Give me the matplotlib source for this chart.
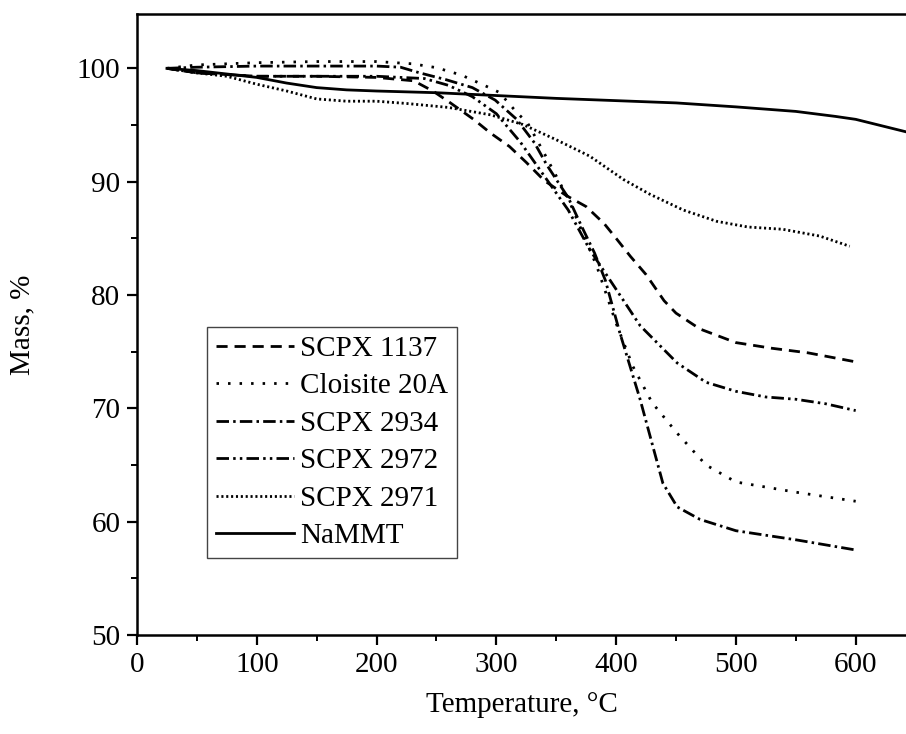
import matplotlib
matplotlib.use("Agg")
import matplotlib.pyplot as plt
from matplotlib.ticker import MultipleLocator

plt.rcParams['font.family'] = 'Liberation Serif'
plt.rcParams['font.size'] = 21
plt.rcParams['lines.scale_dashes'] = False

# TGA curves (temperature in C, mass in %)
t_1137 = [25, 50, 100, 150, 200, 231, 247, 261, 281, 295, 311, 325, 340, 358, 375, 390, 400, 412, 425, 440, 450, 470, 500, 530, 560, 600]
m_1137 = [100, 99.6, 99.3, 99.3, 99.2, 98.9, 98.0, 97.0, 95.5, 94.3, 93.1, 91.7, 90.1, 88.8, 87.8, 86.3, 85.0, 83.4, 81.8, 79.5, 78.4, 77.0, 75.8, 75.3, 74.9, 74.1]

t_cloisite = [25, 50, 100, 150, 200, 230, 250, 271, 292, 302, 309, 317, 326, 340, 360, 384, 400, 414, 430, 451, 475, 500, 550, 600]
m_cloisite = [100, 100.3, 100.5, 100.6, 100.6, 100.4, 100.06, 99.4, 98.4, 97.9, 97.1, 96.1, 95.2, 92.5, 88.5, 82.5, 77.5, 73.7, 70.5, 67.8, 65.0, 63.5, 62.6, 61.8]

t_2934 = [25, 50, 100, 150, 200, 220, 236, 258, 280, 299, 317, 332, 342, 350, 360, 371, 382, 391, 403, 420, 439, 451, 470, 500, 550, 600]
m_2934 = [100, 100.1, 100.2, 100.2, 100.2, 100.1, 99.6, 99.0, 98.3, 97.2, 95.5, 93.4, 91.5, 90.2, 88.6, 86.1, 83.7, 81.3, 76.7, 70.8, 63.4, 61.3, 60.2, 59.2, 58.4, 57.5]

t_2972 = [25, 50, 100, 150, 200, 240, 260, 280, 300, 320, 340, 360, 378, 400, 420, 451, 475, 500, 525, 550, 575, 600]
m_2972 = [100, 99.6, 99.3, 99.3, 99.3, 99.1, 98.5, 97.5, 96.0, 93.5, 90.5, 87.5, 84.0, 80.5, 77.3, 74.0, 72.3, 71.5, 71.0, 70.8, 70.4, 69.8]

t_2971 = [25, 50, 75, 100, 125, 150, 175, 200, 225, 260, 295, 322, 350, 378, 406, 428, 456, 484, 510, 539, 570, 595]
m_2971 = [100, 99.6, 99.3, 98.6, 98.0, 97.3, 97.1, 97.1, 96.9, 96.55, 95.9, 95.05, 93.7, 92.25, 90.2, 88.9, 87.5, 86.5, 86.0, 85.8, 85.2, 84.3]

t_nammt = [25, 50, 75, 100, 125, 150, 175, 200, 250, 300, 350, 400, 450, 500, 550, 583, 600, 642]
m_nammt = [100, 99.8, 99.5, 99.2, 98.7, 98.3, 98.1, 98.0, 97.85, 97.6, 97.35, 97.15, 96.95, 96.6, 96.2, 95.76, 95.5, 94.4]

fig = plt.figure(figsize=(9.06, 7.34), dpi=100)
ax = fig.add_axes([0.1512, 0.1349, 0.8488, 0.8461])

lw = 2.0
ax.plot(t_1137, m_1137, color='black', lw=lw, dashes=(8, 5), label='SCPX 1137')
ax.plot(t_cloisite, m_cloisite, color='black', lw=lw, dashes=(1.8, 6.5), label='Cloisite 20A')
ax.plot(t_2934, m_2934, color='black', lw=lw, dashes=(9, 3, 1.8, 3), label='SCPX 2934')
ax.plot(t_2972, m_2972, color='black', lw=lw, dashes=(9, 3, 1.8, 3, 1.8, 3), label='SCPX 2972')
ax.plot(t_2971, m_2971, color='black', lw=lw, dashes=(1.5, 2.0), label='SCPX 2971')
ax.plot(t_nammt, m_nammt, color='black', lw=lw, label='NaMMT')

ax.set_xlim(0, 642)
ax.set_ylim(50, 104.8)
ax.xaxis.set_major_locator(MultipleLocator(100))
ax.xaxis.set_minor_locator(MultipleLocator(50))
ax.yaxis.set_major_locator(MultipleLocator(10))
ax.yaxis.set_minor_locator(MultipleLocator(5))
ax.tick_params(which='major', direction='out', length=7, width=1.6, pad=5)
ax.tick_params(which='minor', direction='out', length=4.5, width=1.4)

for side in ['left', 'bottom', 'top']:
    ax.spines[side].set_linewidth(1.8)
ax.spines['right'].set_visible(False)

ax.set_xlabel('Temperature, °C', labelpad=10)
ax.set_ylabel('Mass, %', labelpad=30)

leg = ax.legend(loc='lower left', bbox_to_anchor=(0.091, 0.124), borderaxespad=0,
                handlelength=2.7, handletextpad=0.2, labelspacing=0.38,
                fancybox=False, framealpha=1, edgecolor='#444444',
                borderpad=0.3)
leg.get_frame().set_linewidth(1.0)

fig.savefig('out.png', dpi=100)
